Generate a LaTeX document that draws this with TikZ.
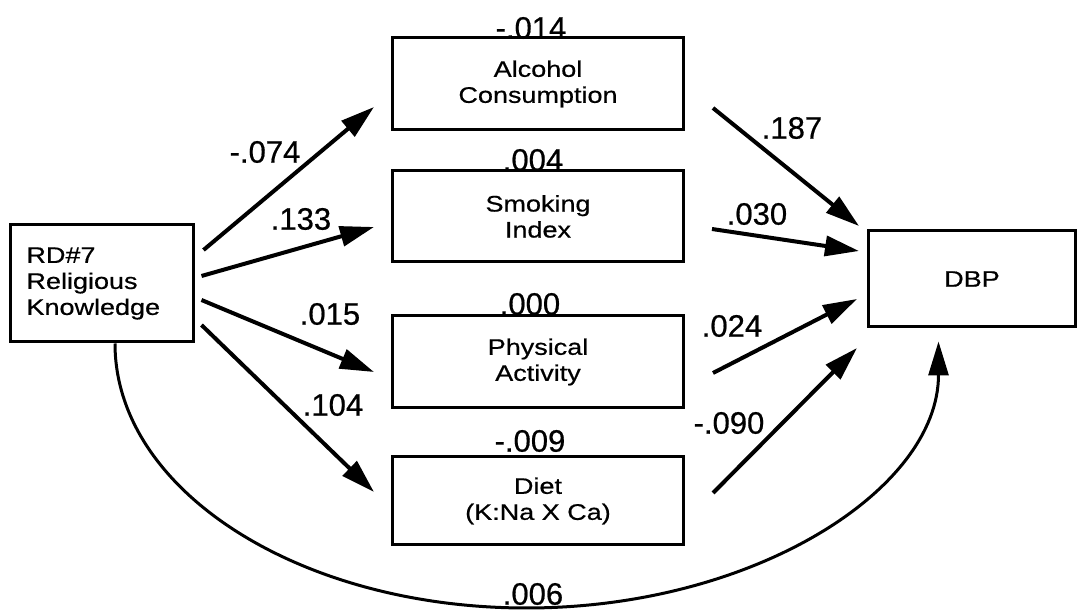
\documentclass[tikz,border=0pt]{standalone}
\usepackage{fontspec}
\setmainfont[FakeBold=0.6]{Liberation Sans}
\newfontfamily\boxfont[FakeStretch=1.2,FakeBold=0.6]{Liberation Sans}
\usetikzlibrary{arrows.meta,calc}
\begin{document}
\begin{tikzpicture}[x=1pt,y=1pt,
  box/.style={draw, line width=3pt, font=\boxfont\fontsize{22.5}{26}\selectfont, align=center, inner sep=0pt},
  mid/.style={box, minimum width=291pt, minimum height=92pt},
  lab/.style={font=\fontsize{31}{31}\selectfont, inner sep=0pt},
  arr/.style={line width=4pt, -{Triangle[length=34pt,width=20pt]}},
  curvearr/.style={line width=3pt, -{Triangle[length=34pt,width=20pt]}},
]
\useasboundingbox (0,0) rectangle (1077,613);
% boxes
\node[box, minimum width=183pt, minimum height=117pt, text width=150pt, align=left] (rk) at (101.5,329.5) {RD\#7\\Religious\\Knowledge};
\node[mid] (alc) at (538,529) {Alcohol\\Consumption};
\node[mid, minimum height=91pt] (smk) at (538,396.5) {Smoking\\Index};
\node[mid] (phy) at (538,251) {Physical\\Activity};
\node[mid, minimum height=88pt] (diet) at (538,112) {Diet\\(K:Na X Ca)};
\node[box, minimum width=207pt, minimum height=96pt] (dbp) at (972,334) {DBP};
% arrows from RD#7
\draw[arr] ($(rk.east)+(9,33.5)$) -- ($(alc.west)+(-17,-23)$);
\draw[arr] ($(rk.east)+(7,7.5)$) -- ($(smk.west)+(-17,-10.5)$);
\draw[arr] ($(rk.east)+(7,-16.5)$) -- ($(phy.west)+(-17,-10)$);
\draw[arr] ($(rk.east)+(7,-41.5)$) -- ($(diet.west)+(-17,9)$);
% arrows to DBP
\draw[arr] ($(alc.east)+(28,-24)$) -- ($(dbp.west)+(-8,53)$);
\draw[arr] ($(smk.east)+(27,-12.5)$) -- ($(dbp.west)+(-8,28)$);
\draw[arr] ($(phy.east)+(28,-11)$) -- ($(dbp.west)+(-10,-20)$);
\draw[arr] ($(diet.east)+(28,8)$) -- ($(dbp.west)+(-10,-69)$);
% direct curved path
\coordinate (cs) at ($(rk.south)+(13.5,0)$);
\coordinate (cb) at (526.5,5);
\coordinate (ce) at ($(dbp.south)+(-33.5,-13)$);
\draw[curvearr] (cs) .. controls ($(cs)+(0,-147)$) and ($(cb)+(-227,0)$) .. (cb)
  .. controls ($(cb)+(227,0)$) and ($(ce)+(0,-148)$) .. (ce);
% path coefficients
\node[lab] (l1) at (265,461) {-.074};
\node[lab] (l2) at (301,394) {.133};
\node[lab] (l3) at (330,299) {.015};
\node[lab] (l4) at (333,208) {.104};
\node[lab] (l5) at (792,485) {.187};
\node[lab] (l6) at (757,399) {.030};
\node[lab] (l7) at (732,287) {.024};
\node[lab] (l8) at (729,190) {-.090};
\node[lab] (l9) at (533,19) {.006};
\node[lab] (l10) at (531,585) {-.014};
\node[lab] (l11) at (533,453) {.004};
\node[lab] (l12) at (530,309) {.000};
\node[lab] (l13) at (530,172) {-.009};
\end{tikzpicture}
\end{document}
